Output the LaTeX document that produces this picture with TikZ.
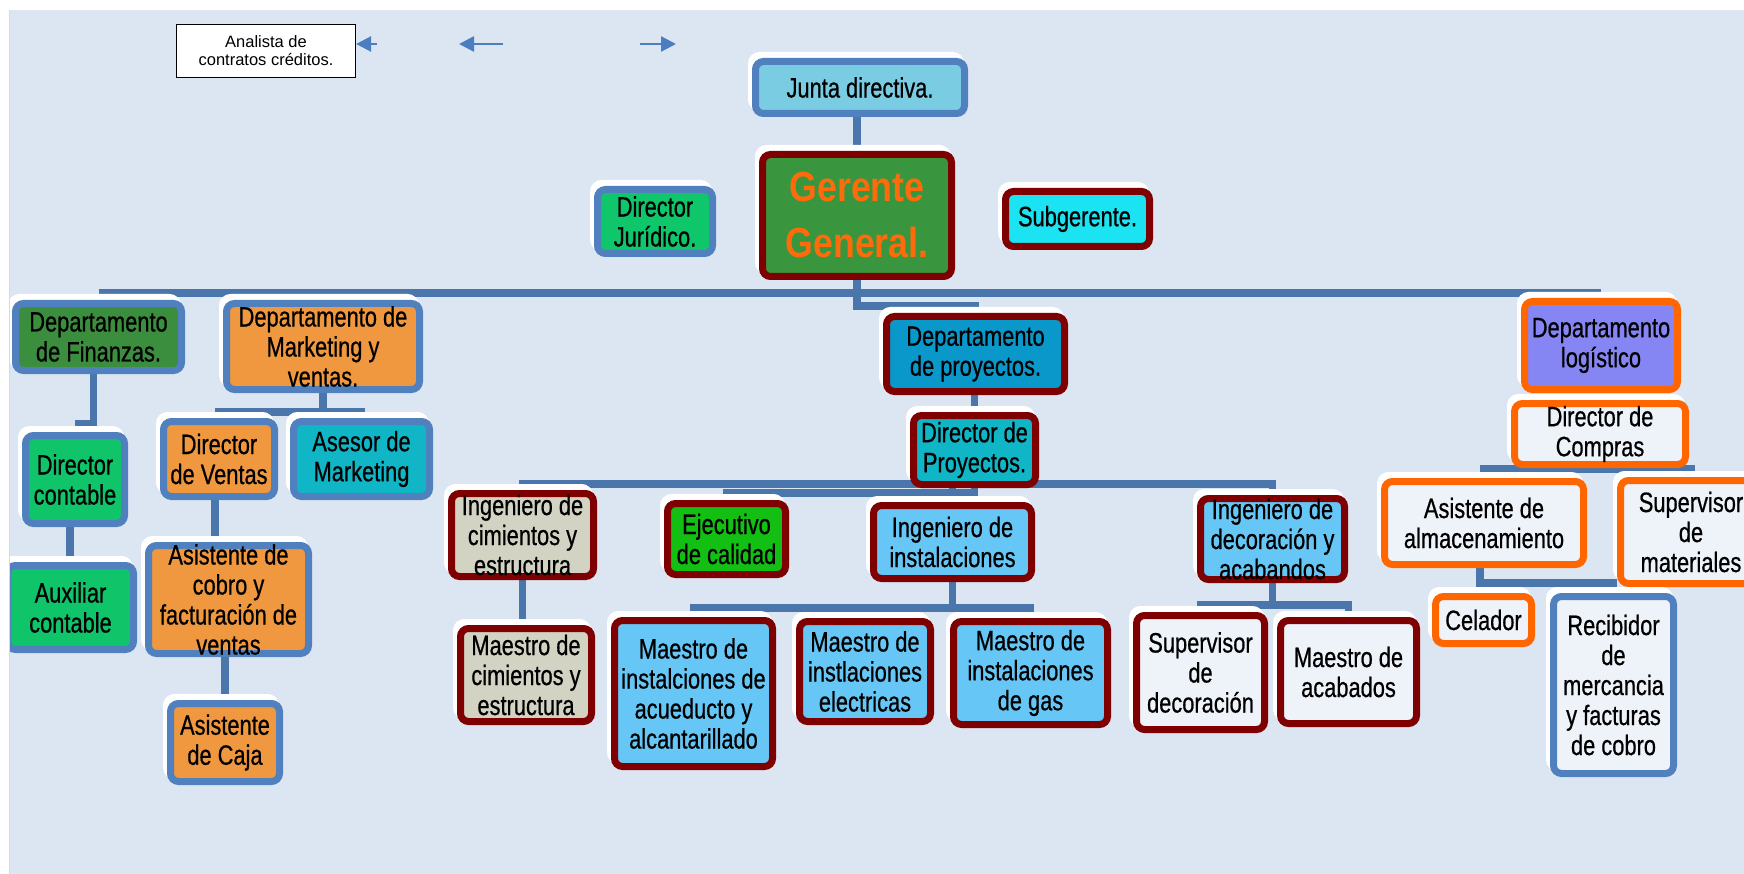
\documentclass[tikz,border=0pt]{standalone}
\usepackage{fontspec}
\setmainfont[FakeStretch=0.78, FakeBold=0.6]{Liberation Sans}
\newfontfamily\plainfont{Liberation Sans}
\newfontfamily\gerfont[FakeStretch=0.85]{Liberation Sans}
\usepackage{xcolor}
\usetikzlibrary{arrows.meta,backgrounds}

\definecolor{bgcol}{HTML}{DCE6F2}
\definecolor{linkblue}{HTML}{4A76AB}
\definecolor{arrblue}{HTML}{4A7EC0}
\definecolor{bordblue}{HTML}{5080BE}
\definecolor{bordred}{HTML}{7F0000}
\definecolor{bordora}{HTML}{FF6600}
\definecolor{cjunta}{HTML}{7ACCE3}
\definecolor{cger}{HTML}{3A963E}
\definecolor{gertxt}{HTML}{FF6A0A}
\definecolor{cjur}{HTML}{0FC66A}
\definecolor{csub}{HTML}{1CE3F1}
\definecolor{cfin}{HTML}{3B8E3D}
\definecolor{cgreen}{HTML}{10C46A}
\definecolor{corange}{HTML}{F0983F}
\definecolor{cteal}{HTML}{10B5C6}
\definecolor{cproy}{HTML}{0A98CB}
\definecolor{cbeige}{HTML}{D3D3C3}
\definecolor{cejec}{HTML}{12BF12}
\definecolor{clblue}{HTML}{66C6F6}
\definecolor{cwhite}{HTML}{EEF2F9}
\definecolor{clog}{HTML}{8585F4}

\tikzset{
  box/.style={rectangle, rounded corners=8pt, line width=7pt, inner sep=0pt,
    preaction={draw=white, fill=white, line width=7pt,
      transform canvas={shift={(-4pt,6pt)}}}},
  bluebox/.style={box, draw=bordblue},
  redbox/.style={box, draw=bordred},
  orabox/.style={box, draw=bordora},
  txt/.style={align=center, text=black, font=\fontsize{28}{30}\selectfont},
  link/.style={draw=linkblue, line width=7.5pt},
  arr/.style={draw=arrblue, line width=2.5pt, -{Triangle[length=15pt,width=15pt]}}
}

\begin{document}
\begin{tikzpicture}[x=1pt, y=-1pt]
\useasboundingbox (0,0) rectangle (1744,874);
\begin{scope}[on background layer]
  \fill[white] (0,0) rectangle (1744,874);
  \fill[bgcol] (10,10) rectangle (1744,874);
\end{scope}

% Top - analyst box and loose arrows
\node[draw=black, line width=1.2pt, fill=white, minimum width=179pt, minimum height=53pt,
  inner sep=0pt, align=center, font=\plainfont\fontsize{16.5}{18}\selectfont] (analista) at (266,51)
  {Analista de\\contratos créditos.};
\coordinate (a1) at (377,44);
\coordinate (a2a) at (503,44);
\coordinate (a2b) at (459,44);
\coordinate (a3a) at (640,44);
\coordinate (a3b) at (676,44);
\draw[arr] (a1) -- (a1 -| analista.east);
\draw[arr] (a2a) -- (a2b);
\draw[arr] (a3a) -- (a3b);

% Direction
\node[bluebox, fill=cjunta, minimum width=209pt, minimum height=52pt,
  label={[txt]center:Junta directiva.}] (junta) at (860,87.5) {};
\node[redbox, fill=cger, minimum width=189pt, minimum height=122pt,
  label={[txt, font=\gerfont\bfseries\fontsize{42}{56}\selectfont, text=gertxt]center:{Gerente\\General.}}] (gerente) at (857,215.5) {};
\node[bluebox, fill=cjur, minimum width=115pt, minimum height=64pt,
  label={[txt]center:{Director\\Jurídico.}}] (jur) at (655,221.5) {};
\node[redbox, fill=csub, minimum width=144pt, minimum height=55pt,
  label={[txt]center:Subgerente.}] (sub) at (1077.5,219) {};

% Finanzas
\node[bluebox, fill=cfin, minimum width=166pt, minimum height=67pt,
  label={[txt]center:{Departamento\\de Finanzas.}}] (fin) at (98.5,337) {};
\node[bluebox, fill=cgreen, minimum width=99pt, minimum height=88pt,
  label={[txt]center:{Director\\contable}}] (dcont) at (75,479.5) {};
\node[bluebox, fill=cgreen, minimum width=126pt, minimum height=84pt,
  label={[txt]center:{Auxiliar\\contable}}] (aux) at (70.5,607.5) {};

% Marketing y ventas
\node[bluebox, fill=corange, minimum width=193pt, minimum height=86pt,
  label={[txt]center:{Departamento de\\Marketing y\\ventas.}}] (mkt) at (323,346.5) {};
\node[bluebox, fill=corange, minimum width=111pt, minimum height=75pt,
  label={[txt]center:{Director\\de Ventas}}] (vent) at (219,459) {};
\node[bluebox, fill=cteal, minimum width=136pt, minimum height=75pt,
  label={[txt]center:{Asesor de\\Marketing}}] (ases) at (361.5,459) {};
\node[bluebox, fill=corange, minimum width=160pt, minimum height=108pt,
  label={[txt]center:{Asistente de\\cobro y\\facturación de\\ventas}}] (cobro) at (228.5,599.5) {};
\node[bluebox, fill=corange, minimum width=109pt, minimum height=78pt,
  label={[txt]center:{Asistente\\de Caja}}] (caja) at (225,742.5) {};

% Proyectos
\node[redbox, fill=cproy, minimum width=178pt, minimum height=75pt,
  label={[txt]center:{Departamento\\de proyectos.}}] (proy) at (975.5,354) {};
\node[redbox, fill=cteal, minimum width=122pt, minimum height=69pt,
  label={[txt]center:{Director de\\Proyectos.}}] (dirp) at (974.5,450) {};
\node[redbox, fill=cbeige, minimum width=142pt, minimum height=83pt,
  label={[txt]center:{Ingeniero de\\cimientos y\\estructura}}] (ingc) at (522.5,535) {};
\node[redbox, fill=cbeige, minimum width=131pt, minimum height=93pt,
  label={[txt]center:{Maestro de\\cimientos y\\estructura}}] (mcim) at (526,675) {};
\node[redbox, fill=cejec, minimum width=118pt, minimum height=71pt,
  label={[txt]center:{Ejecutivo\\de calidad}}] (ejec) at (726.5,539) {};
\node[redbox, fill=clblue, minimum width=158pt, minimum height=73pt,
  label={[txt]center:{Ingeniero de\\instalaciones}}] (ingi) at (952.5,542) {};
\node[redbox, fill=clblue, minimum width=158pt, minimum height=146pt,
  label={[txt]center:{Maestro de\\instalciones de\\acueducto y\\alcantarillado}}] (macu) at (693.5,693.5) {};
\node[redbox, fill=clblue, minimum width=131pt, minimum height=100pt,
  label={[txt]center:{Maestro de\\instlaciones\\electricas}}] (mele) at (865,671.5) {};
\node[redbox, fill=clblue, minimum width=154pt, minimum height=103pt,
  label={[txt]center:{Maestro de\\instalaciones\\de gas}}] (mgas) at (1030.5,673) {};
\node[redbox, fill=clblue, minimum width=144pt, minimum height=81pt,
  label={[txt]center:{Ingeniero de\\decoración y\\acabandos}}] (ingd) at (1272.5,539) {};
\node[redbox, fill=cwhite, minimum width=128pt, minimum height=114pt,
  label={[txt]center:{Supervisor\\de\\decoración}}] (sdec) at (1200.5,672.5) {};
\node[redbox, fill=cwhite, minimum width=136pt, minimum height=103pt,
  label={[txt]center:{Maestro de\\acabados}}] (macb) at (1348.5,672) {};

% Logistica
\node[orabox, fill=clog, minimum width=153pt, minimum height=88pt,
  label={[txt]center:{Departamento\\logístico}}] (log) at (1601,345.5) {};
\node[orabox, fill=cwhite, minimum width=171pt, minimum height=61pt,
  label={[txt]center:{Director de\\Compras}}] (comp) at (1600,434) {};
\node[orabox, fill=cwhite, minimum width=199pt, minimum height=83pt,
  label={[txt]center:{Asistente de\\almacenamiento}}] (alm) at (1484,523) {};
\node[orabox, fill=cwhite, minimum width=141pt, minimum height=103pt,
  label={[txt]center:{Supervisor\\de\\materiales}}] (smat) at (1691,532) {};
\node[orabox, fill=cwhite, minimum width=96pt, minimum height=47pt,
  label={[txt]center:Celador}] (cel) at (1483.5,620) {};
\node[bluebox, fill=cwhite, minimum width=120pt, minimum height=177pt,
  label={[txt]center:{Recibidor\\de\\mercancia\\y facturas\\de cobro}}] (rec) at (1613.5,685) {};

% Connectors, behind the boxes
\coordinate (bus) at (0,293);
\begin{scope}[on background layer]
  \draw[link] (gerente.north) -- (gerente.north |- junta.south);
  \draw[link] (fin.north |- bus) -- (log.north |- bus);
  \draw[link] (gerente.south) -- ++(0,26) -| (proy.north);
  % finanzas
  \draw[link] ([xshift=-5pt]fin.south) |- ([yshift=8pt]dcont.north);
  \draw[link] ([xshift=-5pt]dcont.south) -- ([xshift=-5pt]dcont.south |- aux.north);
  % marketing
  \draw[link] (mkt.south) -- ++(0,19);
  \draw[link] (vent.north) -- ++(0,-6) -| (ases.north);
  \draw[link] ([xshift=-4pt]vent.south) -- ([xshift=-4pt]vent.south |- cobro.north);
  \draw[link] (caja.north) -- (caja.north |- cobro.south);
  % proyectos
  \draw[link] (dirp.north) -- (dirp.north |- proy.south);
  \draw[link] (ingc.north) -- ++(0,-6) -| (ingd.north);
  \draw[link] (ejec.north) -- ++(0,-7) -| (dirp.south);
  \draw[link] (ingi.north) -- (ingi.north |- dirp.south);
  \draw[link] (ingc.south) -- (ingc.south |- mcim.north);
  \draw[link] (ingi.south) -- ++(0,26);
  \draw[link] (macu.north) -- ++(0,-9) -| (mgas.north);
  \draw[link] (mele.north) -- ++(0,-10);
  \draw[link] (ingd.south) -- ++(0,22);
  \draw[link] (sdec.north) -- ++(0,-7) -| (macb.north);
  % logistica
  \draw[link] (alm.north) -- ++(0,-9) -| (smat.north);
  \draw[link] ([xshift=-4pt]alm.south) -- ++(0,15) -| (rec.north);
  \draw[link] (cel.north) -- ++(0,-10);
\end{scope}

% left margin
\fill[white] (0,0) rectangle (9.5,874);
\draw[black!15, line width=1pt] (9.5,10) -- (9.5,874);
\end{tikzpicture}
\end{document}
